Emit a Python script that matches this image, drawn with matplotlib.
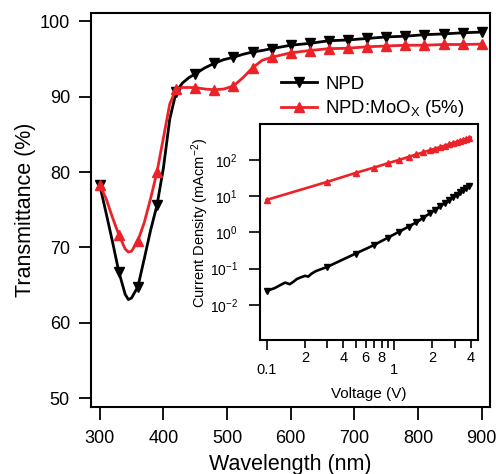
import matplotlib
matplotlib.use("Agg")
import matplotlib.pyplot as plt
from matplotlib.ticker import FixedLocator, FuncFormatter, NullLocator, LogFormatterSciNotation

plt.rcParams['font.family'] = ['Liberation Sans', 'DejaVu Sans']
plt.rcParams['mathtext.fontset'] = 'custom'
plt.rcParams['mathtext.rm'] = 'Liberation Sans'
plt.rcParams['mathtext.it'] = 'Liberation Sans:italic'
plt.rcParams['mathtext.bf'] = 'Liberation Sans:bold'

RED = '#ec2229'

# ---------------- transmittance data ---------------- #
wavelength = [300, 310, 320, 330, 340, 345, 350, 360, 370, 380, 390, 400, 410, 420,
              430, 440, 450, 465, 480, 495, 510, 525, 540, 555, 570, 600, 630, 660,
              690, 720, 750, 780, 810, 840, 870, 900]
t_npd = [78.3, 74.6, 70.8, 66.8, 63.8, 63.1, 63.3, 64.8, 68.5, 72.3, 75.6, 80.5, 87.0, 90.6,
         91.8, 92.5, 93.0, 93.8, 94.4, 94.9, 95.2, 95.6, 95.9, 96.1, 96.35, 96.8, 97.05, 97.4,
         97.5, 97.7, 97.9, 98.0, 98.2, 98.3, 98.45, 98.55]
t_moox = [78.3, 76.5, 74.0, 71.7, 69.8, 69.4, 69.5, 70.9, 73.3, 76.5, 80.0, 84.5, 89.0, 91.0,
          91.2, 91.2, 91.2, 91.0, 90.9, 91.0, 91.4, 92.5, 93.8, 94.8, 95.2, 95.8, 96.1, 96.35,
          96.4, 96.6, 96.7, 96.8, 96.8, 96.9, 96.9, 96.95]

# ---------------- J-V data (inset) ---------------- #
v_npd = [0.1, 0.116, 0.13, 0.14, 0.152, 0.162, 0.172, 0.185, 0.2, 0.212, 0.225, 0.24, 0.26, 0.28,
         0.3, 0.4, 0.5, 0.6, 0.7, 0.8, 0.9, 1.0, 1.1, 1.2, 1.3, 1.4, 1.5, 1.6, 1.7, 1.8, 1.9,
         2.0, 2.1, 2.2, 2.3, 2.4, 2.5, 2.6, 2.7, 2.8, 2.9, 3.0, 3.1, 3.2, 3.3, 3.4, 3.5, 3.6,
         3.7, 3.8, 3.9, 4.0]
j_npd = [0.024, 0.029, 0.036, 0.041, 0.037, 0.043, 0.051, 0.057, 0.063, 0.060, 0.072, 0.083,
         0.093, 0.102, 0.112, 0.18, 0.26, 0.35, 0.45, 0.58, 0.72, 0.88, 1.05, 1.24, 1.45, 1.67,
         1.9, 2.22, 2.55, 2.92, 3.33, 3.75, 4.22, 4.72, 5.28, 5.86, 6.49, 7.13, 7.82, 8.55, 9.3,
         10.1, 11.0, 11.9, 12.8, 13.7, 14.8, 15.8, 16.9, 18.1, 19.3, 20.4]
v_moox = [0.1, 0.3, 0.5, 0.7, 0.9, 1.1, 1.3, 1.5, 1.7, 1.9, 2.1, 2.3, 2.5, 2.7, 2.9, 3.1, 3.3,
          3.5, 3.7, 3.9, 4.0]
j_moox = [7.9, 25, 44, 62, 82, 101, 122, 143, 164, 185, 206, 228, 250, 272, 294, 317, 340,
          362, 385, 408, 419]

fig = plt.figure(figsize=(4.96, 4.74), dpi=100)

# ---------------- main axes ---------------- #
ax = fig.add_axes([0.183, 0.142, 0.805, 0.831])
marks = [i for i, w in enumerate(wavelength) if w % 30 == 0]
ax.plot(wavelength, t_npd, color='black', lw=2.0, marker='v', ms=7, markevery=marks,
        label='NPD')
ax.plot(wavelength, t_moox, color=RED, lw=2.0, marker='^', ms=7, markevery=marks,
        label=r'NPD:MoO$_{\mathrm{X}}$ (5%)')
ax.set_xlim(286, 913)
ax.set_ylim(48.9, 101.1)
ax.set_xticks([300, 400, 500, 600, 700, 800, 900])
ax.set_yticks([50, 60, 70, 80, 90, 100])
ax.tick_params(direction='out', length=9, width=1.3, labelsize=13, pad=6,
               top=False, right=False)
ax.tick_params(axis='x', pad=8)
for s in ax.spines.values():
    s.set_linewidth(1.5)
ax.set_xlabel('Wavelength (nm)', fontsize=15.5, labelpad=5)
ax.set_ylabel('Transmittance (%)', fontsize=15.5, labelpad=3)
ax.legend(loc='upper left', bbox_to_anchor=(0.566, 0.840), bbox_transform=fig.transFigure,
          frameon=False, fontsize=13.4, handlelength=1.95, handletextpad=0.43,
          labelspacing=0.3, borderaxespad=0, borderpad=0)

# ---------------- inset ---------------- #
ins = fig.add_axes([0.524, 0.283, 0.440, 0.455])
v_marks = [i for i, v in enumerate(v_npd)
           if abs(v * 10 - round(v * 10)) < 1e-9 and round(v * 10) % 2 == 1]
ins.plot(v_npd, j_npd, color='black', lw=1.9, marker='v', ms=5, markevery=v_marks)
ins.plot(v_moox, j_moox, color=RED, lw=1.9, marker='^', ms=5, markevery=list(range(20)))
ins.set_xscale('log')
ins.set_yscale('log')
ins.set_xlim(0.0886, 4.57)
ins.set_ylim(10 ** -2.97, 10 ** 2.99)

ins.xaxis.set_major_locator(FixedLocator([0.1, 1]))
ins.xaxis.set_minor_locator(FixedLocator([0.2, 0.3, 0.4, 0.5, 0.6, 0.7, 0.8, 0.9, 2, 3, 4]))
minor_lab = {0.2: '2', 0.4: '4', 0.6: '6', 0.8: '8', 2: '2', 4: '4'}
ins.xaxis.set_major_formatter(FuncFormatter(lambda x, p: '0.1' if x < 0.5 else '1'))
ins.xaxis.set_minor_formatter(FuncFormatter(
    lambda x, p: next((t for k, t in minor_lab.items() if abs(k - x) < 1e-6), '')))
ins.yaxis.set_major_locator(FixedLocator([1e-2, 1e-1, 1, 10, 100]))
ins.yaxis.set_major_formatter(LogFormatterSciNotation())
ins.yaxis.set_minor_locator(NullLocator())

ins.tick_params(which='major', axis='x', direction='out', length=7, width=1.2,
                labelsize=10.5, pad=10)
ins.tick_params(which='minor', axis='x', direction='out', length=6, width=1.2,
                labelsize=10.5, pad=2)
ins.tick_params(axis='y', direction='out', length=8, width=1.2, labelsize=10, pad=8)
for s in ins.spines.values():
    s.set_linewidth(1.5)
ins.set_xlabel('Voltage (V)', fontsize=11, labelpad=7)
ins.set_ylabel(r'Current Density (mAcm$^{-2}$)', fontsize=10.5)
ins.yaxis.set_label_coords(-0.225, 0.54)

fig.savefig('out.png', dpi=100)
